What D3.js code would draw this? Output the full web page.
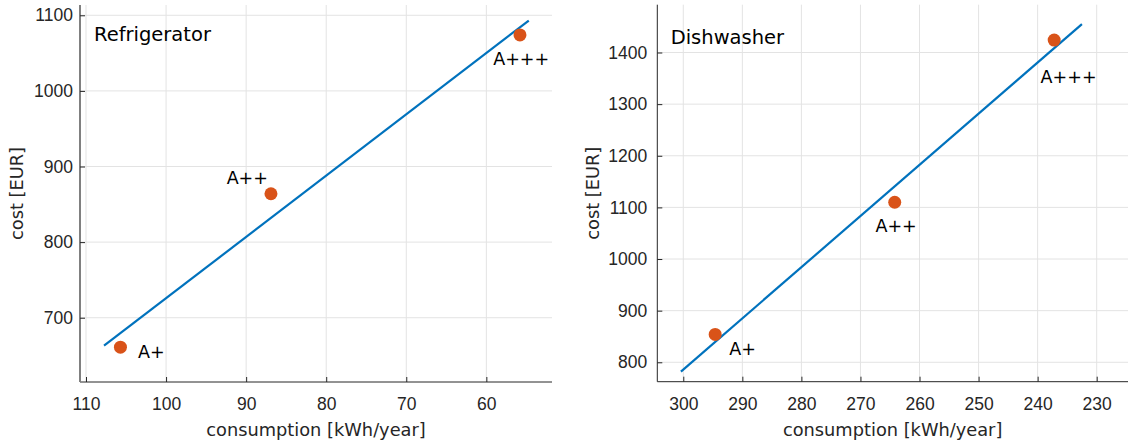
<!DOCTYPE html>
<html>
<head>
<meta charset="utf-8">
<script src="https://cdn.jsdelivr.net/npm/d3@7"></script>
<style>
  body { margin: 0; background: #fff; }
  svg { display: block; font-family: 'DejaVu Sans', sans-serif; }
</style>
</head>
<body>
<div id="chart"></div>
<script>
// energy classes and values
const energyClasses = ['A+', 'A++', 'A+++'];

const fridgeConsumption = [105.7, 86.9, 55.8];
const fridgeCost = [661, 864, 1074];
const fridgeFitConsumption = [107.75, 54.7];
const fridgeFitCost = [663, 1093];
const fridgeXTicks = [110, 100, 90, 80, 70, 60];
const fridgeYTicks = [700, 800, 900, 1000, 1100];

const dishConsumption = [294.6, 264.2, 237.2];
const dishCost = [854, 1110, 1424];
const dishFitConsumption = [300.4, 232.5];
const dishFitCost = [782, 1455];
const dishXTicks = [300, 290, 280, 270, 260, 250, 240, 230];
const dishYTicks = [800, 900, 1000, 1100, 1200, 1300, 1400];

const panels = [
  {
    title: 'Refrigerator',
    consumption: fridgeConsumption,
    cost: fridgeCost,
    fitX: fridgeFitConsumption,
    fitY: fridgeFitCost,
    xTicks: fridgeXTicks,
    yTicks: fridgeYTicks,
    xDomain: [110.75, 51.8],
    yDomain: [615, 1113.6],
    left: 80, right: 552, top: 5, bottom: 382,
    yAxisColor: '#808080', yAxisWidth: 2, yTickPad: 7,
    titleAt: [14, 35.7],
    ylabelX: 17,
    // [anchor, dx, dy] for each class label
    labelPos: [['start', 17.6, 11], ['end', -3, -9.7], ['middle', 1.2, 30]],
  },
  {
    title: 'Dishwasher',
    consumption: dishConsumption,
    cost: dishCost,
    fitX: dishFitConsumption,
    fitY: dishFitCost,
    xTicks: dishXTicks,
    yTicks: dishYTicks,
    xDomain: [304.4, 224.7],
    yDomain: [762.4, 1492.6],
    left: 657.3, right: 1128, top: 4.7, bottom: 381.7,
    yAxisColor: '#262626', yAxisWidth: 1, yTickPad: 10,
    titleAt: [13.4, 39.6],
    ylabelX: 593,
    labelPos: [['start', 14, 20.7], ['middle', 1.4, 30], ['middle', 14.4, 42.7]],
  },
];

const width = 1130;
const height = 443;
const textColor = '#262626';
const tickFont = "'Liberation Sans', Arial, sans-serif";

const svg = d3.select('#chart').append('svg')
  .attr('width', width)
  .attr('height', height);

panels.forEach((p) => {
  const x = d3.scaleLinear().domain(p.xDomain).range([p.left, p.right]);
  const y = d3.scaleLinear().domain(p.yDomain).range([p.bottom, p.top]);
  const g = svg.append('g');

  // grid
  g.selectAll('.vgrid').data(p.xTicks).enter().append('line')
    .attr('x1', (d) => x(d)).attr('x2', (d) => x(d))
    .attr('y1', p.top).attr('y2', p.bottom)
    .style('stroke', '#e3e3e3').style('stroke-width', 1);
  g.selectAll('.hgrid').data(p.yTicks).enter().append('line')
    .attr('x1', p.left).attr('x2', p.right)
    .attr('y1', (d) => y(d)).attr('y2', (d) => y(d))
    .style('stroke', '#e3e3e3').style('stroke-width', 1);

  // axes with inward ticks
  const xAxis = d3.axisBottom(x).tickValues(p.xTicks).tickSize(-5).tickPadding(15.5)
    .tickFormat(d3.format('d'));
  const yAxis = d3.axisLeft(y).tickValues(p.yTicks).tickSize(-5).tickPadding(p.yTickPad)
    .tickFormat(d3.format('d'));

  const xg = g.append('g').attr('transform', `translate(0,${p.bottom})`).call(xAxis);
  xg.select('.domain').attr('d', `M${p.left},0H${p.right}`)
    .style('stroke', textColor);
  xg.selectAll('.tick line').style('stroke', textColor);
  xg.selectAll('.tick text').style('font-size', '17.5px').style('fill', textColor)
    .style('font-family', tickFont);

  const yg = g.append('g').attr('transform', `translate(${p.left},0)`).call(yAxis);
  yg.select('.domain').attr('d', `M0,${p.top}V${p.bottom}`)
    .style('stroke', p.yAxisColor).style('stroke-width', p.yAxisWidth);
  yg.selectAll('.tick line').style('stroke', textColor);
  yg.selectAll('.tick text').style('font-size', '17.5px').style('fill', textColor)
    .style('font-family', tickFont);

  // fitted line
  const fit = p.fitX.map((v, i) => [v, p.fitY[i]]);
  g.append('path')
    .datum(fit)
    .attr('d', d3.line().x((d) => x(d[0])).y((d) => y(d[1])))
    .style('fill', 'none')
    .style('stroke', '#0072BD')
    .style('stroke-width', 2.2);

  // points
  const pts = energyClasses.map((c, i) => ({ label: c, cx: p.consumption[i], cy: p.cost[i], pos: p.labelPos[i] }));
  g.selectAll('.pt').data(pts).enter().append('circle')
    .attr('cx', (d) => x(d.cx))
    .attr('cy', (d) => y(d.cy))
    .attr('r', 6.5)
    .style('fill', '#D95319');

  g.selectAll('.plabel').data(pts).enter().append('text')
    .attr('x', (d) => x(d.cx) + d.pos[1])
    .attr('y', (d) => y(d.cy) + d.pos[2])
    .style('text-anchor', (d) => d.pos[0])
    .style('font-size', '17.5px')
    .style('fill', '#000')
    .text((d) => d.label);

  // panel title
  g.append('text')
    .attr('x', p.left + p.titleAt[0])
    .attr('y', p.top + p.titleAt[1])
    .style('font-size', '19.5px')
    .style('fill', '#000')
    .text(p.title);

  // axis labels
  g.append('text')
    .attr('x', (p.left + p.right) / 2)
    .attr('y', 436)
    .style('text-anchor', 'middle')
    .style('font-size', '17.8px')
    .style('fill', textColor)
    .text('consumption [kWh/year]');

  g.append('text')
    .attr('transform', `translate(${p.ylabelX + 6},${(p.top + p.bottom) / 2}) rotate(-90)`)
    .style('text-anchor', 'middle')
    .style('font-size', '17.8px')
    .style('fill', textColor)
    .text('cost [EUR]');
});
</script>
</body>
</html>
